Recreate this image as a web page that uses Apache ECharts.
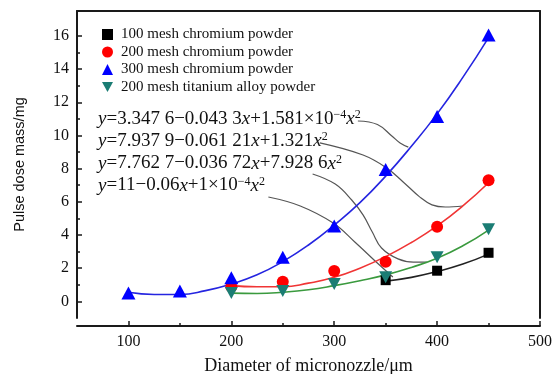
<!DOCTYPE html>
<html>
<head>
<meta charset="utf-8">
<script src="https://cdn.jsdelivr.net/npm/echarts@6/dist/echarts.min.js"></script>
<style>html,body{margin:0;padding:0;background:#fff}#c{width:555px;height:374px}</style>
</head>
<body>
<div id="c"></div>
<script>
// ---- data ----
const xTickLabels = [100, 200, 300, 400, 500];
const yTickLabels = [0, 2, 4, 6, 8, 10, 12, 14, 16];

const seriesNames = ['100 mesh chromium powder', '200 mesh chromium powder', '300 mesh chromium powder', '200 mesh titanium alloy powder'];

const m100X = [350, 400, 450];
const m100Y = [1.28, 1.85, 2.93];
const m200X = [200, 250, 300, 350, 400, 450];
const m200Y = [0.89, 1.19, 1.83, 2.39, 4.5, 7.3];
const m300X = [100, 150, 200, 250, 300, 350, 400, 450];
const m300Y = [0.5, 0.62, 1.42, 2.66, 4.55, 7.95, 11.15, 16.05];
const tiX = [200, 250, 300, 350, 400, 450];
const tiY = [0.5, 0.62, 1.05, 1.45, 2.66, 4.35];

// fitted curves
const fit100X = [350, 375, 400, 425, 450];
const fit100Y = [1.22, 1.45, 1.8, 2.25, 2.85];
const fit200X = [200, 225, 250, 275, 300, 325, 350, 375, 400, 425, 450];
const fit200Y = [0.95, 0.88, 0.88, 1.1, 1.45, 2.0, 2.7, 3.55, 4.55, 5.75, 7.15];
const fit300X = [100, 125, 150, 175, 200, 225, 250, 275, 300, 325, 350, 375, 400, 425, 450];
const fit300Y = [0.55, 0.42, 0.42, 0.65, 1.05, 1.6, 2.4, 3.4, 4.6, 5.95, 7.55, 9.35, 11.3, 13.5, 15.9];
const fitTiX = [200, 225, 250, 275, 300, 325, 350, 375, 400, 425, 450];
const fitTiY = [0.5, 0.48, 0.55, 0.7, 0.95, 1.25, 1.6, 2.05, 2.6, 3.35, 4.3];

// equation leader lines (data coordinates)
const lead1 = [[323, 10.87], [342, 10.66], [356, 9.97], [364, 9.55], [372, 9.3]];
const lead2 = [[286, 9.55], [328, 8.82], [351, 8.04], [367, 7.2], [383, 6.3], [395, 5.82], [408, 5.69], [425, 5.75]];
const lead3 = [[279, 7.68], [301, 7.07], [317, 6.11], [328, 5.21], [337, 4.18], [346, 3.22], [362, 2.56], [377, 2.37], [390, 2.37]];
const lead4 = [[236, 6.29], [267, 5.75], [299, 4.72], [320, 3.58], [344, 2.19], [357, 1.47]];

const equations = [
  '{i|y}=3.347 6\u22120.043 3{i|x}+1.581\u00d710{s|\u22124}{i|x}{s|2}',
  '{i|y}=7.937 9\u22120.061 21{i|x}+1.321{i|x}{s|2}',
  '{i|y}=7.762 7\u22120.036 72{i|x}+7.928 6{i|x}{s|2}',
  '{i|y}=11\u22120.06{i|x}+1\u00d710{s|\u22124}{i|x}{s|2}'
];

// ---- layout ----
const W = 555, H = 374;
const G = { left: 77, right: 15, top: 11, bottom: 56 };
const xMin = 50, xMax = 500, yMin = -1, yMax = 17.5;
const pxX = (W - G.left - G.right) / (xMax - xMin);
const pxY = (H - G.top - G.bottom) / (yMax - yMin);
const xAxisDrop = 8;
const tickGrid = {
  left: G.left + (xTickLabels[0] - xMin) * pxX,
  right: G.right + (xMax - xTickLabels[xTickLabels.length - 1]) * pxX,
  top: G.top + (yMax - yTickLabels[yTickLabels.length - 1]) * pxY,
  bottom: G.bottom + (yTickLabels[0] - yMin) * pxY,
  outerBoundsMode: 'none', containLabel: false
};

const SERIF = '"Liberation Serif", "Times New Roman", serif';
const AX = '#1a1a1a';
const EQ_FS = 19;
const zip = (a, b) => a.map((v, i) => [v, b[i]]);
const downTri = 'path://M0,0 L10,0 L5,9 Z';

const chart = echarts.init(document.getElementById('c'), null, { renderer: 'canvas' });

const lineAxis = (extra) => Object.assign({
  type: 'value', axisLine: { show: true, onZero: false, lineStyle: { color: AX, width: 2 } },
  axisTick: { show: false }, axisLabel: { show: false }, splitLine: { show: false }
}, extra);

const eqRich = {
  i: { fontStyle: 'italic', fontFamily: SERIF, fontSize: EQ_FS, color: '#111' },
  s: { fontFamily: SERIF, fontSize: 12, verticalAlign: 'top', padding: [0, 0, 8, 0], color: '#111' }
};
const eqRowY = [116, 138, 160.5, 182.5];

const option = {
  animation: false,
  backgroundColor: '#fff',
  grid: [
    Object.assign({ outerBoundsMode: 'none', containLabel: false }, G),
    tickGrid
  ],
  xAxis: [
    lineAxis({ gridIndex: 0, min: xMin, max: xMax, position: 'bottom', offset: xAxisDrop,
      name: 'Diameter of micronozzle/\u03bcm', nameLocation: 'middle', nameGap: 31,
      nameTextStyle: { fontFamily: SERIF, fontSize: 18, color: '#111' } }),
    lineAxis({ gridIndex: 0, min: xMin, max: xMax, position: 'top' }),
    { type: 'value', gridIndex: 1, min: xTickLabels[0], max: xTickLabels[xTickLabels.length - 1], interval: 100,
      position: 'bottom', offset: xAxisDrop + (yTickLabels[0] - yMin) * pxY,
      axisLine: { show: false, onZero: false },
      axisTick: { show: true, inside: true, length: 5, lineStyle: { color: AX, width: 1.5 } },
      minorTick: { show: true, splitNumber: 2, length: 3, lineStyle: { color: AX, width: 1.5 } },
      axisLabel: { show: true, margin: 8, fontFamily: SERIF, fontSize: 16, color: '#111' },
      splitLine: { show: false } }
  ],
  yAxis: [
    lineAxis({ gridIndex: 0, min: yMin, max: yMax, position: 'left',
      name: 'Pulse dose mass/mg', nameLocation: 'middle', nameGap: 50,
      nameTextStyle: { fontFamily: '"Liberation Sans", Arial, sans-serif', fontSize: 14.5, color: '#111' } }),
    lineAxis({ gridIndex: 0, min: yMin, max: yMax, position: 'right' }),
    { type: 'value', gridIndex: 1, min: yTickLabels[0], max: yTickLabels[yTickLabels.length - 1], interval: 2,
      position: 'left', offset: (xTickLabels[0] - xMin) * pxX,
      axisLine: { show: false, onZero: false },
      axisTick: { show: true, inside: true, length: 5, lineStyle: { color: AX, width: 1.5 } },
      minorTick: { show: true, splitNumber: 2, length: 3, lineStyle: { color: AX, width: 1.5 } },
      axisLabel: { show: true, margin: 8, fontFamily: SERIF, fontSize: 16, color: '#111' },
      splitLine: { show: false } }
  ],
  legend: {
    orient: 'vertical', left: 102, top: 27, padding: 0, itemGap: 2.5, itemWidth: 11, itemHeight: 11,
    textStyle: { fontFamily: SERIF, fontSize: 15, color: '#111', lineHeight: 15, padding: [0, 0, 0, 3] },
    data: [
      { name: seriesNames[0], icon: 'rect' },
      { name: seriesNames[1], icon: 'circle' },
      { name: seriesNames[2], icon: 'triangle' },
      { name: seriesNames[3], icon: downTri }
    ]
  },
  graphic: equations.map((t, k) => ({
    type: 'text', left: 98, top: eqRowY[k] - 7, z: 50,
    style: { text: t, rich: eqRich, fontFamily: SERIF, fontSize: EQ_FS, fill: '#111' }
  })),
  series: [
    // leader lines
    ...[lead1, lead2, lead3, lead4].map(d => ({
      type: 'line', data: d, smooth: 0.4, showSymbol: false, silent: true, z: 1,
      lineStyle: { color: '#555', width: 1.2 }
    })),
    // fitted curves
    { type: 'line', data: zip(fit300X, fit300Y), smooth: true, showSymbol: false, z: 2, lineStyle: { color: '#2525e0', width: 1.6 } },
    { type: 'line', data: zip(fit200X, fit200Y), smooth: true, showSymbol: false, z: 2, lineStyle: { color: '#f03535', width: 1.6 } },
    { type: 'line', data: zip(fitTiX, fitTiY), smooth: true, showSymbol: false, z: 2, lineStyle: { color: '#3a9a3e', width: 1.6 } },
    { type: 'line', data: zip(fit100X, fit100Y), smooth: true, showSymbol: false, z: 2, lineStyle: { color: '#222', width: 1.6 } },
    // markers
    { name: seriesNames[0], type: 'scatter', data: zip(m100X, m100Y), symbol: 'rect', symbolSize: 10, z: 5, itemStyle: { color: '#000', opacity: 1 } },
    { name: seriesNames[1], type: 'scatter', data: zip(m200X, m200Y), symbol: 'circle', symbolSize: 12, z: 5, itemStyle: { color: '#ff0000', opacity: 1 } },
    { name: seriesNames[2], type: 'scatter', data: zip(m300X, m300Y), symbol: 'triangle', symbolSize: [14, 13], z: 5, itemStyle: { color: '#0000ff', opacity: 1 } },
    { name: seriesNames[3], type: 'scatter', data: zip(tiX, tiY), symbol: downTri, symbolSize: [13, 12], z: 5, itemStyle: { color: '#1b7d74', opacity: 1 } }
  ]
};
chart.setOption(option);
</script>
</body>
</html>
